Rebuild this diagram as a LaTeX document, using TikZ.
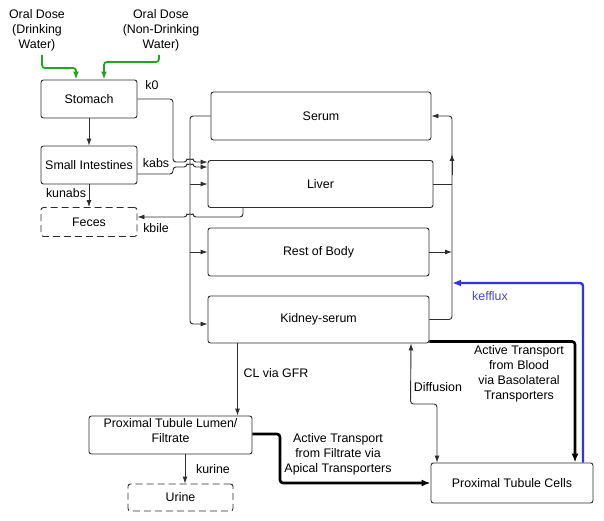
\documentclass[tikz,border=0pt]{standalone}
\usepackage{fontspec}
\setmainfont{Liberation Sans}
\usetikzlibrary{arrows.meta}
\definecolor{linec}{RGB}{45,45,45}
\definecolor{greenc}{RGB}{40,160,40}
\definecolor{bluec}{RGB}{50,50,235}
\definecolor{bluetext}{RGB}{70,70,220}
\begin{document}
\begin{tikzpicture}[x=1pt,y=-1pt,
  font=\fontsize{12.4}{15}\selectfont,
  box/.style={draw=linec, line width=0.9pt, rounded corners=2.5pt, inner sep=0pt, align=center},
  dbox/.style={box, dash pattern=on 7pt off 4pt},
  conn/.style={draw=linec, line width=0.9pt, rounded corners=3pt},
  arr/.style={conn, -{Latex[length=7pt,width=5pt]}},
  darr/.style={conn, {Latex[length=7pt,width=5pt]}-{Latex[length=7pt,width=5pt]}},
  harr/.style={draw=black, line width=2.6pt, rounded corners=3pt, -{Latex[length=9pt,width=7pt]}},
  garr/.style={draw=greenc, line width=1.8pt, rounded corners=3pt, -{Latex[length=8pt,width=6pt]}},
  barr/.style={draw=bluec, line width=2.4pt, rounded corners=3pt, -{Latex[length=9pt,width=7pt]}},
  lbl/.style={inner sep=0pt, align=center},
]
\useasboundingbox (0,0) rectangle (604,521);

% boxes
\node[box, minimum width=96pt, minimum height=38pt] (stomach) at (89,99) {Stomach};
\node[box, minimum width=96pt, minimum height=38pt] (si) at (89,165) {Small Intestines};
\node[dbox, minimum width=96pt, minimum height=29pt] (feces) at (89,222) {Feces};
\node[box, minimum width=220pt, minimum height=48pt] (serum) at (321,116) {Serum};
\node[box, minimum width=225pt, minimum height=47pt] (liver) at (320.5,184) {Liver};
\node[box, minimum width=221pt, minimum height=48pt] (rest) at (318.5,252) {Rest of Body};
\node[box, minimum width=221pt, minimum height=47pt] (kidney) at (318.5,319.5) {Kidney-serum};
\node[box, minimum width=163pt, minimum height=38pt] (ptl) at (170.5,435) {};
\node[lbl] (ptltext) at (170.5,431) {Proximal Tubule Lumen/\\Filtrate};
\node[dbox, minimum width=105pt, minimum height=27pt] (urine) at (180.5,497.5) {Urine};
\node[box, minimum width=162pt, minimum height=40pt] (ptc) at (512,483) {Proximal Tubule Cells};

% labels
\node[lbl] (oral1) at (37,30) {Oral Dose\\(Drinking\\Water)};
\node[lbl] (oral2) at (161,30) {Oral Dose\\(Non-Drinking\\Water)};
\node[lbl] (k0) at (152,85) {k0};
\node[lbl] (kabs) at (156,163) {kabs};
\node[lbl] (kunabs) at (66,193) {kunabs};
\node[lbl] (kbile) at (156,228) {kbile};
\node[lbl] (clgfr) at (276,373) {CL via GFR};
\node[lbl] (kurine) at (213,469) {kurine};
\node[lbl] (diff) at (438,387) {Diffusion};
\node[lbl] (at1) at (338,454) {Active Transport\\from Filtrate via\\Apical Transporters};
\node[lbl] (at2) at (519,373.5) {Active Transport\\from Blood\\via Basolateral\\Transporters};
\node[lbl, text=bluetext] (kefflux) at (490,296) {kefflux};

% free ends
\coordinate (g1) at (42,55);
\coordinate (g2) at (159,55);
\coordinate (rbus) at (452,283);

% green inputs
\draw[garr] (g1) -- (42,68) -| ([xshift=-13pt]stomach.north);
\draw[garr] (g2) -- (159,62) -| ([xshift=15pt]stomach.north);

% GI tract
\draw[arr] (stomach) -- (si);
\draw[arr] (si) -- (feces);
\draw[arr] (stomach.east) -| (173,162) -- (187,162) arc[start angle=180,end angle=0,radius=3pt] -- (liver.west |- 0,162);
\draw[arr] (si.east |- 0,174) -- (173,174) -- (173,167) -- (187,167) arc[start angle=180,end angle=0,radius=3pt] -- (liver.west |- 0,167);
\draw[arr] ([xshift=-77.5pt]liver.south) |- (193,217) arc[start angle=0,end angle=180,radius=3pt] -- (feces.east |- 0,217);

% left bus
\draw[arr] (serum.west) -- (190,116) -- (190,324) -- (kidney.west |- 0,324);
\draw[arr] (190,184) -- (liver.west);
\draw[arr] (190,252) -- (rest.west);

% right bus
\draw[conn] (liver.east) -- (452,184);
\draw[arr] (rest.east) -- (452,252);
\draw[arr] (kidney.east) -- (452,319.5) -- (452,116) -- (serum.east);
\draw[arr] (452,175) -- (452,154);

% kidney
\draw[arr] ([xshift=-81pt]kidney.south) -- ([xshift=-81pt]kidney.south |- ptl.north);
\draw[darr] ([xshift=92.5pt]kidney.south) -- (410.5,404) -| ([xshift=-75pt]ptc.north);
\draw[harr] ([yshift=2pt]kidney.south east) -| ([xshift=63pt]ptc.north);
\draw[harr] ([yshift=1pt]ptl.east) -- (280,434) -- (280,483) -- (ptc.west);
\draw[arr] ([xshift=14.5pt]ptl.south) -- ([xshift=14.5pt]ptl.south |- urine.north);
\draw[barr] ([xshift=71pt]ptc.north) -- (583,283) -- (rbus);
\end{tikzpicture}
\end{document}
